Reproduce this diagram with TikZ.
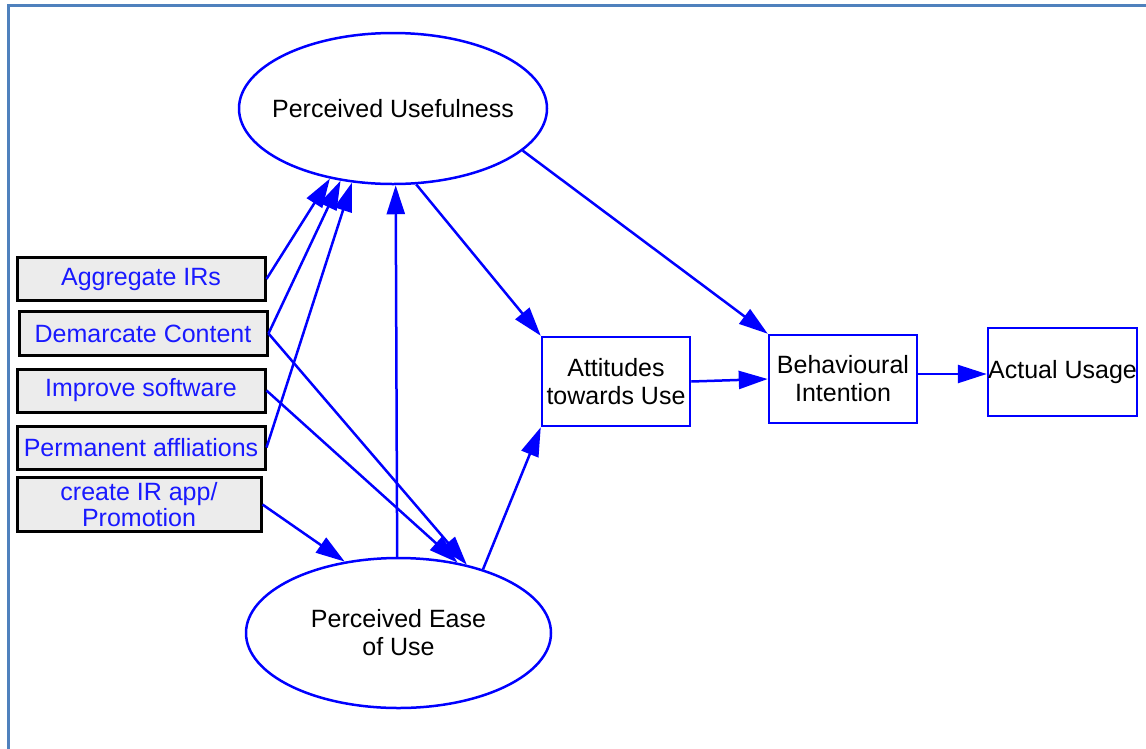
\documentclass[tikz,border=0pt]{standalone}
\usepackage{fontspec}
\setmainfont{Liberation Sans}
\usetikzlibrary{arrows.meta,shapes.geometric}
\definecolor{framec}{RGB}{79,129,189}
\definecolor{lnblue}{RGB}{0,0,255}
\definecolor{txblue}{RGB}{25,25,255}
\definecolor{boxgray}{RGB}{236,236,236}
\tikzset{
  every node/.style={font=\fontsize{25}{28}\selectfont},
  bigell/.style={ellipse, draw=lnblue, line width=2.5pt, fill=white, inner sep=0pt, align=center, text=black},
  mainbox/.style={rectangle, draw=lnblue, line width=2.5pt, fill=white, inner sep=0pt, align=center, text=black},
  factor/.style={rectangle, draw=black, line width=3pt, fill=boxgray, inner sep=0pt, align=center, text=txblue, minimum width=248pt, minimum height=43pt},
  conn/.style={draw=lnblue, line width=2.5pt, -{Triangle[length=29pt,width=18pt]}}
}
\begin{document}
\begin{tikzpicture}[x=1pt,y=-1pt]
\useasboundingbox (0,0) rectangle (1146,748);
\fill[white] (0,0) rectangle (1146,748);
\draw[framec, line width=3pt] (8,760) -- (8,5) -- (1160,5);

\node[bigell, minimum width=308pt, minimum height=151pt] (PU) at (393,108.5) {\makebox[0pt]{Perceived Usefulness}};
\node[bigell, minimum width=305pt, minimum height=150pt] (PEOU) at (398.5,633) {Perceived Ease\\of Use};
\node[mainbox, minimum width=148pt, minimum height=89pt] (ATT) at (616,381.5) {Attitudes\\towards Use};
\node[mainbox, minimum width=148pt, minimum height=88pt] (BI) at (843,379) {Behavioural\\Intention};
\node[mainbox, minimum width=149pt, minimum height=88pt] (AU) at (1062.5,372) {\makebox[0pt]{Actual Usage}};

\node[factor] (A1) at (141,279) {Aggregate IRs};
\node[factor, minimum height=44pt] (A2) at (143,333.5) {Demarcate Content};
\node[factor] (A3) at (141,390.5) {Improve software};
\node[factor] (A4) at (141,447.5) {Permanent affliations};
\node[factor, minimum width=244pt, minimum height=54pt, font=\fontsize{25}{26}\selectfont] (A5) at (139,504.5) {create IR app/\\Promotion};

\draw[conn] (A1.east) -- (PU.228.6);
\draw[conn] (A2.east) -- (PU.234);
\draw[conn] (A4.east) -- (PU.241);
\draw[conn] (A2.east) -- (PEOU.45.2);
\draw[conn] (A3.east) -- (PEOU.50.5);
\draw[conn] (A5.east) -- (PEOU.127);
\draw[conn] (PEOU.91) -- (PU.272);
\draw[conn] (PEOU.37.5) -- (ATT.south west);
\draw[conn] (PU.287.4) -- (ATT.north west);
\draw[conn] (PU.342.5) -- (BI.north west);
\draw[conn] (ATT.east) -- (BI.west);
\draw[conn] ([yshift=5pt]BI.east) -- ([yshift=-2pt]AU.west);
\end{tikzpicture}
\end{document}
